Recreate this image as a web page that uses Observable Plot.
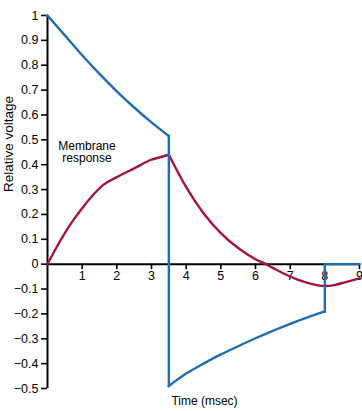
<!DOCTYPE html>
<html>
<head>
<meta charset="utf-8">
<script src="https://cdn.jsdelivr.net/npm/d3@7"></script>
<script src="https://cdn.jsdelivr.net/npm/@observablehq/plot@0.6"></script>
<style>
  html, body { margin: 0; padding: 0; background: #fff; }
  #chart svg { display: block; }
</style>
</head>
<body>
<div id="chart"></div>
<script>
// Stimulus (blue) — time in msec, relative voltage; segment ids split the smooth parts from the vertical jumps
const stimTime    = [0, 0.5, 1, 1.5, 2, 2.5, 3, 3.5,   3.5, 3.5,   3.5, 4, 4.5, 5, 5.5, 6, 6.5, 7, 7.5, 8,   8, 8,   8, 9];
const stimVoltage = [1, 0.92, 0.84, 0.765, 0.695, 0.63, 0.57, 0.515,   0.515, -0.49,   -0.49, -0.44, -0.40, -0.363, -0.33, -0.298, -0.268, -0.24, -0.214, -0.19,   -0.19, 0,   0, 0];
const stimSegment = [1, 1, 1, 1, 1, 1, 1, 1,   2, 2,   3, 3, 3, 3, 3, 3, 3, 3, 3, 3,   4, 4,   5, 5];

// Membrane response (red): rising part (1) and falling part (2)
const respTime    = [0, 0.25, 0.5, 0.75, 1, 1.25, 1.6, 2, 2.5, 3, 3.25, 3.5,   3.5, 4, 4.5, 5, 5.5, 6, 6.3, 6.5, 7, 7.5, 8, 8.3, 8.6, 9];
const respVoltage = [0, 0.065, 0.125, 0.178, 0.225, 0.268, 0.318, 0.35, 0.385, 0.42, 0.43, 0.44,   0.44, 0.31, 0.205, 0.125, 0.065, 0.02, 0, -0.015, -0.05, -0.075, -0.088, -0.083, -0.072, -0.057];
const respSegment = [1, 1, 1, 1, 1, 1, 1, 1, 1, 1, 1, 1,   2, 2, 2, 2, 2, 2, 2, 2, 2, 2, 2, 2, 2, 2];

// Axis ticks and labels
const xTicks = [1, 2, 3, 4, 5, 6, 7, 8, 9];
const xTickLabels = ["1", "2", "3", "4", "5", "6", "7", "8", "9"];
const yTicks = [-0.5, -0.4, -0.3, -0.2, -0.1, 0, 0.1, 0.2, 0.3, 0.4, 0.5, 0.6, 0.7, 0.8, 0.9, 1];
const yTickLabels = ["−0.5", "−0.4", "−0.3", "−0.2", "−0.1", "0", "0.1", "0.2", "0.3", "0.4", "0.5", "0.6", "0.7", "0.8", "0.9", "1"];

const xLabel = "Time (msec)";
const yLabel = "Relative voltage";
const annotation = [{text: "Membrane\nresponse", time: 1.14, voltage: 0.452}];

const stim = stimTime.map((t, i) => ({t, v: stimVoltage[i], s: stimSegment[i]}));
const resp = respTime.map((t, i) => ({t, v: respVoltage[i], s: respSegment[i]}));
const xTickData = xTicks.map((t, i) => ({t, label: xTickLabels[i]}));

const BLUE = "#1f6db4";
const RED = "#a3163f";
const FONT = "'Liberation Sans', Arial, Helvetica, sans-serif";

const chart = Plot.plot({
  width: 362,
  height: 411,
  marginLeft: 47,
  marginRight: 3,
  marginTop: 15,
  marginBottom: 23,
  style: {fontFamily: FONT, fontSize: "12px", color: "#000", background: "#fff"},
  x: {domain: [0, 9], axis: null},
  y: {domain: [-0.5, 1], axis: null},
  marks: [
    Plot.axisY(yTicks, {
      anchor: "left",
      tickSize: 6,
      tickPadding: 3,
      strokeWidth: 1.6,
      fontSize: 12.5,
      tickFormat: (d, i) => yTickLabels[i],
      label: null
    }),
    Plot.ruleX([0], {stroke: "#000", strokeWidth: 2}),
    Plot.ruleY([0], {stroke: "#000", strokeWidth: 2}),
    Plot.ruleX(xTickData, {x: "t", y1: 0, y2: -0.022, stroke: "#000", strokeWidth: 1.6}),
    Plot.text(xTickData, {x: "t", y: 0, text: "label", dy: 12, fontSize: 12.5, fill: "#000"}),
    Plot.text([yLabel], {frameAnchor: "left", rotate: -90, dx: -39, dy: -10, fontSize: 13.5, fill: "#000"}),
    Plot.text([xLabel], {frameAnchor: "bottom", dy: 16, dx: 1, fontSize: 12, fill: "#000"}),
    Plot.text(annotation, {x: "time", y: "voltage", text: "text", fontSize: 12, lineHeight: 1.05, fill: "#000"}),
    Plot.line(resp, {x: "t", y: "v", z: "s", stroke: RED, strokeWidth: 2.4, curve: "monotone-x", strokeLinecap: "round"}),
    Plot.line(stim.filter(d => d.s === 1 || d.s === 3 || d.s === 5), {x: "t", y: "v", z: "s", stroke: BLUE, strokeWidth: 2.4, curve: "monotone-x", strokeLinecap: "square"}),
    Plot.line(stim.filter(d => d.s === 2 || d.s === 4), {x: "t", y: "v", z: "s", stroke: BLUE, strokeWidth: 2.4, curve: "linear", strokeLinecap: "square"})
  ]
});

document.getElementById("chart").appendChild(chart);
</script>
</body>
</html>
